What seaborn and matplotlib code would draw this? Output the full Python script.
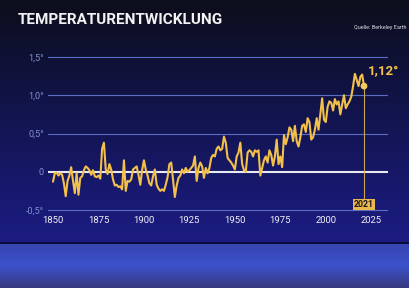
import numpy as np
import pandas as pd
import matplotlib
matplotlib.use("Agg")
import matplotlib.pyplot as plt
import seaborn as sns

# ---- data -------------------------------------------------------------
years = list(range(1850, 2022))
anomaly = [
    -0.13, -0.02, -0.01, -0.05, -0.02, -0.04, -0.15, -0.32, -0.12, -0.05,   # 1850s
     0.06, -0.12, -0.28, -0.02, -0.30, -0.08, -0.06,  0.02,  0.07,  0.05,   # 1860s
     0.02, -0.04,  0.02, -0.06, -0.07, -0.05, -0.09,  0.30,  0.38,  0.03,   # 1870s
    -0.03,  0.10,  0.03, -0.10, -0.18, -0.17, -0.20, -0.19, -0.23,  0.15,   # 1880s
    -0.25, -0.12, -0.13, -0.10,  0.03,  0.05,  0.07, -0.04, -0.17,  0.02,   # 1890s
     0.15,  0.03, -0.05, -0.15, -0.18, -0.06,  0.03, -0.17, -0.22, -0.25,   # 1900s
    -0.23, -0.25, -0.17, -0.07,  0.10,  0.12, -0.10, -0.33, -0.18, -0.08,   # 1910s
    -0.05,  0.03, -0.02,  0.05,  0.00,  0.02,  0.05,  0.08,  0.20, -0.12,   # 1920s
     0.05,  0.12,  0.07, -0.08,  0.05, -0.02,  0.05,  0.18,  0.22,  0.20,   # 1930s
     0.30,  0.33,  0.28,  0.30,  0.46,  0.38,  0.18,  0.15,  0.12,  0.08,   # 1940s
     0.03,  0.20,  0.25,  0.38,  0.10,  0.02,  0.00,  0.25,  0.28,  0.26,   # 1950s
     0.20,  0.28,  0.26,  0.28, -0.05,  0.05,  0.15,  0.20,  0.12,  0.28,   # 1960s
     0.22,  0.08,  0.20,  0.42,  0.10,  0.20,  0.06,  0.48,  0.36,  0.45,   # 1970s
     0.58,  0.55,  0.40,  0.60,  0.40,  0.33,  0.45,  0.60,  0.62,  0.52,   # 1980s
     0.70,  0.65,  0.42,  0.45,  0.55,  0.70,  0.55,  0.75,  0.96,  0.68,   # 1990s
     0.65,  0.85,  0.92,  0.90,  0.80,  0.95,  0.88,  0.92,  0.75,  0.88,   # 2000s
     1.00,  0.83,  0.88,  0.92,  0.98,  1.12,  1.28,  1.20,  1.12,  1.24,   # 2010s
     1.27,  1.12,                                                           # 2020s
]
x_ticks = [1850, 1875, 1900, 1925, 1950, 1975, 2000, 2025]
y_ticks = [-0.5, 0.0, 0.5, 1.0, 1.5]
y_labels = ["-0,5°", "0", "0,5°", "1,0°", "1,5°"]
title = "TEMPERATURENTWICKLUNG"
source = "Quelle: Berkeley Earth"
last_year = 2021
last_value_label = "1,12°"

df = pd.DataFrame({"Jahr": years, "Anomalie": anomaly})

# ---- figure -----------------------------------------------------------
sns.set_style("dark")
W, H = 409, 288
fig = plt.figure(figsize=(W / 100, H / 100), dpi=100)

# background gradient
bg = fig.add_axes([0, 0, 1, 1], zorder=0)
bg.set_axis_off()
rows = np.linspace(0, 1, H)
panel_end = 243 / H
top_c = np.array([0x0c, 0x0e, 0x1b]) / 255
mid_c = np.array([0x12, 0x14, 0x4c]) / 255
bot_c = np.array([0x1c, 0x1c, 0x84]) / 255
band_top = np.array([0x36, 0x44, 0xae]) / 255
band_mid = np.array([0x3c, 0x52, 0xcc]) / 255
band_bot = np.array([0x38, 0x38, 0x80]) / 255
img = np.zeros((H, W, 3))
for i, r in enumerate(rows):
    if r < panel_end:
        t = r / panel_end
        if t < 0.45:
            c = top_c + (mid_c - top_c) * (t / 0.45)
        else:
            c = mid_c + (bot_c - mid_c) * ((t - 0.45) / 0.55)
    else:
        t = (r - panel_end) / (1 - panel_end)
        if t < 0.5:
            c = band_top + (band_mid - band_top) * (t / 0.5)
        else:
            c = band_mid + (band_bot - band_mid) * ((t - 0.5) / 0.5)
    img[i, :, :] = c
img[242:244, :, :] = np.array([0x0a, 0x0c, 0x3a]) / 255
bg.imshow(img, aspect="auto", extent=[0, 1, 0, 1], origin="upper")
bg.set_xlim(0, 1); bg.set_ylim(0, 1)

# chart axes (pixel layout)
x_left_px, x_right_px = 48, 388
yr0_px, yr1_px = 53, 364
ppy = (yr1_px - yr0_px) / (2021 - 1850)
xmin = 1850 - (yr0_px - x_left_px) / ppy
xmax = 2021 + (x_right_px - yr1_px) / ppy
y_top_px, y_bot_px = 57, 210
ppu = (y_bot_px - y_top_px) / 2.0
ymin, ymax = -0.53, 1.53
ax_top_px = y_top_px - 0.03 * ppu
ax_bot_px = y_bot_px + 0.03 * ppu
ax = fig.add_axes([x_left_px / W, 1 - ax_bot_px / H,
                   (x_right_px - x_left_px) / W, (ax_bot_px - ax_top_px) / H],
                  zorder=2)
ax.patch.set_alpha(0)
ax.set_xlim(xmin, xmax)
ax.set_ylim(ymin, ymax)
for s in ax.spines.values():
    s.set_visible(False)
ax.grid(False)

# gridlines
for v in y_ticks:
    if v == 0:
        ax.axhline(v, color="#e9e9f2", lw=1.5, zorder=1)
    else:
        ax.axhline(v, color="#5a6fc4", lw=0.8, zorder=1)

line_color = "#f3c14a"
sns.lineplot(data=df, x="Jahr", y="Anomalie", ax=ax, color=line_color,
             lw=1.5, zorder=3, legend=False)
last = df[df["Jahr"] == last_year]
ax.vlines(last_year, -0.36, last["Anomalie"].iloc[0], color="#c9a552",
          lw=0.8, zorder=2)
sns.scatterplot(data=last, x="Jahr", y="Anomalie", ax=ax, color="#f6c95a",
                s=24, edgecolor="none", zorder=4, legend=False)

ax.text(last_year + 2.2, last["Anomalie"].iloc[0] + 0.19, last_value_label,
        color="#f3c14a", fontsize=9.5, fontweight="bold", family="Roboto",
        ha="left", va="center", zorder=5)
ax.text(last_year, -0.43, str(last_year), color="#1a1520", fontsize=6.3,
        fontweight="bold", family="Roboto", ha="center", va="center", zorder=5,
        bbox=dict(boxstyle="square,pad=0.15", fc="#e9b84c", ec="none"))

ax.set_xticks(x_ticks)
ax.set_xticklabels([str(t) for t in x_ticks])
ax.set_yticks(y_ticks)
ax.set_yticklabels(y_labels)
ax.tick_params(axis="x", length=0, pad=3, labelsize=6.8, colors="#f0f0f5")
ax.tick_params(axis="y", length=0, pad=3, labelsize=6.6, colors="#7f90d0")
for lab in ax.get_xticklabels() + ax.get_yticklabels():
    lab.set_family("Roboto")
ax.set_xlabel("")
ax.set_ylabel("")

fig.text(18 / W, 1 - 20 / H, title, color="#f2f2f2", fontsize=11,
         fontweight="bold", family=["Liberation Sans Narrow", "Roboto"],
         ha="left", va="center", zorder=5)
fig.text(407 / W, 1 - 27 / H, source, color="#d8d8e0", fontsize=4.0,
         family="Roboto", ha="right", va="center", zorder=5)

fig.savefig("out.png", dpi=100)
